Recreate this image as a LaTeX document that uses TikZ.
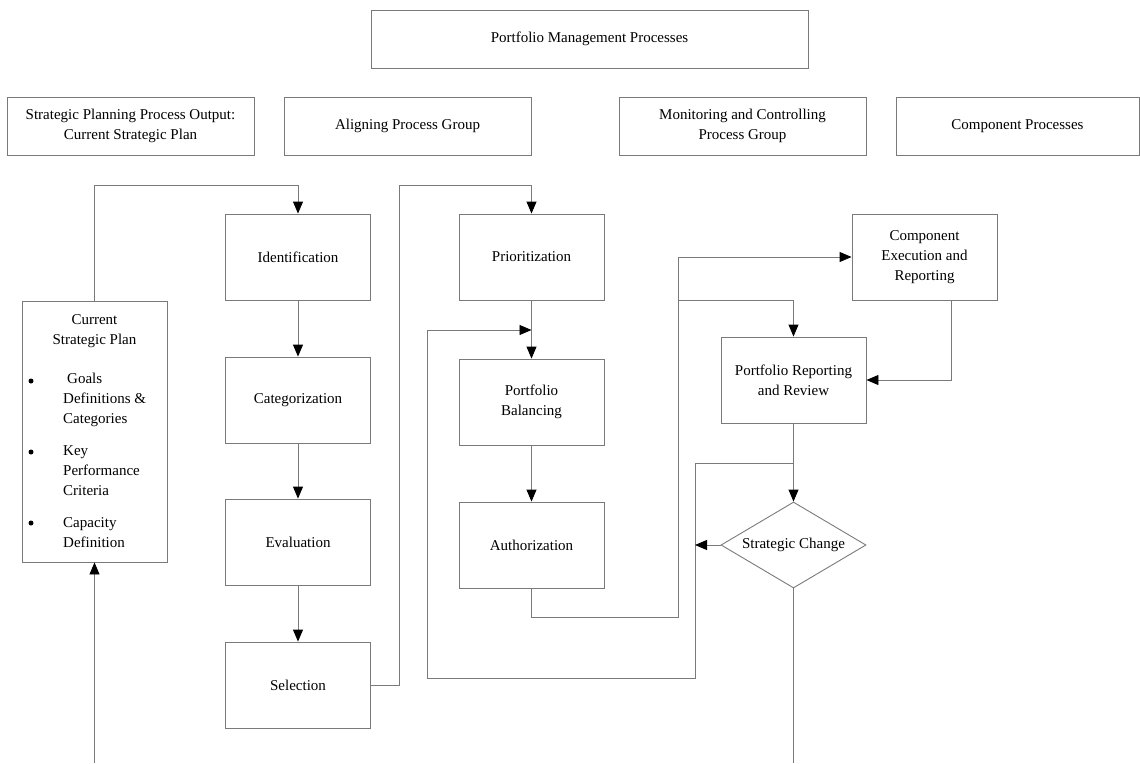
\documentclass[tikz,border=0pt]{standalone}
\usepackage{fontspec}
\setmainfont{Liberation Serif}
\usetikzlibrary{arrows.meta,shapes.geometric}
\definecolor{linegray}{HTML}{7A7A7A}
\tikzset{
  box/.style={draw=linegray, line width=0.9pt, rectangle, inner sep=2pt, align=center, text=black},
  proc/.style={box, minimum width=145pt, minimum height=86pt},
  head/.style={box, minimum width=247pt, minimum height=58pt},
  conn/.style={draw=linegray, line width=0.9pt},
  arr/.style={conn, -{Triangle[length=12pt,width=10pt,color=black]}},
  txt/.style={text=black, inner sep=0pt, align=left},
  dot/.style={circle, fill=black, inner sep=0pt, minimum size=5pt}
}
\begin{document}
\begin{tikzpicture}[x=1pt,y=-1pt, font=\fontsize{15}{20}\selectfont]
\useasboundingbox (0,0) rectangle (1140,763);
% header boxes
\node[box, minimum width=437pt, minimum height=58pt] (pmp) at (589.5,39) {Portfolio Management Processes};
\node[head] (spp) at (130.5,126) {Strategic Planning Process Output:\\Current Strategic Plan};
\node[head] (apg) at (407.5,126) {Aligning Process Group};
\node[head] (mcp) at (742.5,126) {Monitoring and Controlling\\Process Group};
\node[head, minimum width=243pt] (cpr) at (1017.5,126) {Component Processes};
% aligning column
\node[proc] (ident) at (298,257) {Identification};
\node[proc] (cat) at (298,400) {Categorization};
\node[proc] (eval) at (298,542) {Evaluation};
\node[proc] (sel) at (298,685) {Selection};
% second column
\node[proc] (prio) at (531.5,257) {Prioritization};
\node[proc] (bal) at (531.5,402) {Portfolio\\Balancing};
\node[proc] (auth) at (531.5,545) {Authorization};
% monitoring / component
\node[proc] (comp) at (924.5,257) {Component\\Execution and\\Reporting};
\node[proc] (rep) at (793.5,380) {Portfolio Reporting\\and Review};
\node[draw=linegray, line width=0.9pt, diamond, minimum width=145pt, minimum height=86pt, inner sep=0pt] (dia) at (793.5,545) {};
\node[txt] (diat) at (dia.center) {Strategic Change};
% current strategic plan
\node[box, minimum width=145pt, minimum height=261pt] (csp) at (94.5,431.5) {};
\node[txt, align=center] (csph) at (94.5,331) {Current\\Strategic Plan};
\node[dot] (b1) at (31,381) {};
\node[dot] (b2) at (31,452) {};
\node[dot] (b3) at (31,523) {};
\node[txt, anchor=west] (i1) at (63,400) {\hspace{4pt}Goals\\Definitions \&\\Categories};
\node[txt, anchor=west] (i2) at (63,471) {Key\\Performance\\Criteria};
\node[txt, anchor=west] (i3) at (63,533) {Capacity\\Definition};
% route coordinates
\coordinate (r1) at (94.5,185);
\coordinate (r2) at (399,685);
\coordinate (r3) at (399,185);
\coordinate (l1) at (793.5,463);
\coordinate (l2) at (695,463);
\coordinate (l3) at (695,678);
\coordinate (l4) at (427,678);
\coordinate (l5) at (427,330);
\coordinate (l6) at (531.5,330);
\coordinate (dl) at (695,545);
\coordinate (a1) at (531.5,617);
\coordinate (a2) at (678,617);
\coordinate (a3) at (678,300);
\coordinate (a4) at (793.5,300);
\coordinate (c1) at (951,300);
\coordinate (bot1) at (94.5,763);
\coordinate (bot2) at (793.5,763);
% connectors
\draw[arr] (csp.north) -- (r1) -| (ident.north);
\draw[arr] (ident) -- (cat);
\draw[arr] (cat) -- (eval);
\draw[arr] (eval) -- (sel);
\draw[arr] (sel.east) -- (r2) -- (r3) -| (prio.north);
\draw[arr] (prio) -- (bal);
\draw[arr] (bal) -- (auth);
\draw[arr] (l1) -- (l2) -- (l3) -- (l4) -- (l5) -- (l6);
\draw[arr] (rep) -- (dia.north);
\draw[arr] (dia.west) -- (dl);
\draw[arr] (auth.south) -- (a1) -- (a2) |- (comp.west);
\draw[arr] (a3) -- (a4) -- (rep.north);
\draw[arr] (c1) |- (rep.east);
\draw[conn] (dia.south) -- (bot2);
\draw[arr] (bot1) -- (csp.south);
\end{tikzpicture}
\end{document}
